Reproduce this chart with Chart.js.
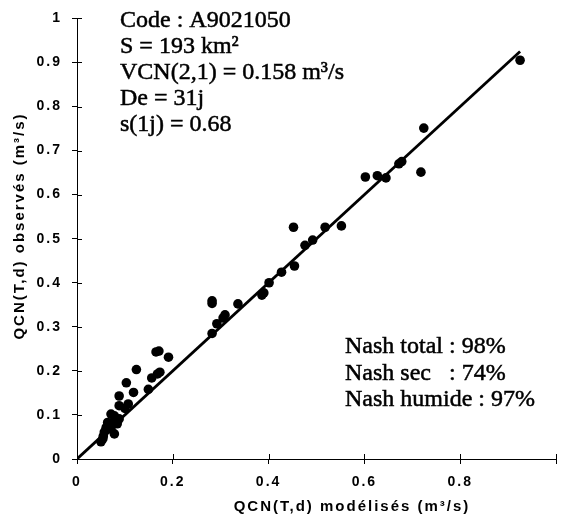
<!DOCTYPE html>
<html>
<head>
<meta charset="utf-8">
<script src="https://cdn.jsdelivr.net/npm/chart.js@4"></script>
<style>
  html, body { margin: 0; padding: 0; background: #fff; }
  #wrap { width: 566px; height: 522px; }
</style>
</head>
<body>
<div id="wrap"><canvas id="chart"></canvas></div>
<script>
const modelled = [
    0.925, 0.724, 0.718, 0.678, 0.672, 0.645, 0.627, 0.602,
    0.552, 0.518, 0.452, 0.492, 0.476, 0.454, 0.427, 0.401, 0.390, 0.386,
    0.336, 0.282, 0.282, 0.309, 0.305, 0.292, 0.282,
    0.171, 0.165, 0.191, 0.124, 0.173, 0.168, 0.156, 0.103, 0.149, 0.118,
    0.088, 0.107, 0.088, 0.100, 0.071, 0.078, 0.088, 0.078, 0.064, 0.084,
    0.061, 0.071, 0.067, 0.057, 0.078, 0.054, 0.050, 0.055, 0.060
];
const observed = [
    0.905, 0.751, 0.651, 0.675, 0.670, 0.638, 0.643, 0.640,
    0.529, 0.526, 0.526, 0.497, 0.485, 0.438, 0.424, 0.400, 0.377, 0.372,
    0.352, 0.359, 0.353, 0.327, 0.320, 0.307, 0.285,
    0.245, 0.243, 0.231, 0.203, 0.197, 0.193, 0.184, 0.173, 0.158, 0.151,
    0.143, 0.125, 0.121, 0.115, 0.102, 0.098, 0.091, 0.087, 0.083, 0.080,
    0.072, 0.068, 0.077, 0.061, 0.057, 0.046, 0.039, 0.052, 0.065
];
// 1:1 line
const lineX = [0, 0.925];
const lineY = [0, 0.925];

const xTicks = [0, 0.2, 0.4, 0.6, 0.8, 1];
const xTickLabels = ["0", "0.2", "0.4", "0.6", "0.8", ""];
const yTicks = [0, 0.1, 0.2, 0.3, 0.4, 0.5, 0.6, 0.7, 0.8, 0.9, 1];
const yTickLabels = ["0", "0.1", "0.2", "0.3", "0.4", "0.5", "0.6", "0.7", "0.8", "0.9", "1"];

const xTitle = "QCN(T,d) modélisés (m³/s)";
const yTitle = "QCN(T,d) observés (m³/s)";
const infoLines = ["Code : A9021050", "S = 193 km²", "VCN(2,1) = 0.158 m³/s", "De = 31j", "s(1j) = 0.68"];
const nashLines = ["Nash total : 98%", "Nash sec   : 74%", "Nash humide : 97%"];

const points = modelled.map((x, i) => ({ x: x, y: observed[i] }));
const line = lineX.map((x, i) => ({ x: x, y: lineY[i] }));

const axisFont = "bold 15px 'Liberation Sans', Arial, sans-serif";

// spaced-out letters like the scanned figure
const spacing = {
    id: "spacing",
    beforeDraw(chart) {
        chart.ctx.letterSpacing = "2px";
    }
};

// tick marks cross the axis: draw the inner half
const innerTicks = {
    id: "innerTicks",
    afterDraw(chart) {
        const ctx = chart.ctx;
        const x = chart.scales.x, y = chart.scales.y;
        ctx.save();
        ctx.strokeStyle = "#000";
        ctx.lineWidth = 1;
        ctx.beginPath();
        xTicks.forEach(v => {
            const px = Math.round(x.getPixelForValue(v)) + 0.5;
            ctx.moveTo(px, y.bottom);
            ctx.lineTo(px, y.bottom - 5);
        });
        yTicks.forEach(v => {
            const py = Math.round(y.getPixelForValue(v)) + 0.5;
            ctx.moveTo(x.left, py);
            ctx.lineTo(x.left + 5, py);
        });
        ctx.stroke();
        ctx.restore();
    }
};

// axis titles sit off-centre in the original, so place them by hand
const titles = {
    id: "titles",
    afterDraw(chart) {
        const ctx = chart.ctx;
        ctx.save();
        ctx.letterSpacing = "2px";
        ctx.fillStyle = "#000";
        ctx.font = axisFont;
        ctx.textAlign = "center";
        ctx.textBaseline = "middle";
        ctx.fillText(xTitle, 352, 507);
        ctx.translate(20, 226);
        ctx.rotate(-Math.PI / 2);
        ctx.fillText(yTitle, 0, 0);
        ctx.restore();
    }
};

const notes = {
    id: "notes",
    afterDraw(chart) {
        const ctx = chart.ctx;
        ctx.save();
        ctx.letterSpacing = "0px";
        ctx.fillStyle = "#000";
        ctx.strokeStyle = "#000";
        ctx.lineWidth = 0.5;
        ctx.font = "24px 'Liberation Serif', 'Times New Roman', serif";
        ctx.textBaseline = "alphabetic";
        infoLines.forEach((t, i) => {
            ctx.fillText(t, 120, 27 + i * 26);
            ctx.strokeText(t, 120, 27 + i * 26);
        });
        nashLines.forEach((t, i) => {
            ctx.fillText(t, 345, 353 + i * 26.5);
            ctx.strokeText(t, 345, 353 + i * 26.5);
        });
        ctx.restore();
    }
};

new Chart(document.getElementById("chart"), {
    type: "scatter",
    data: {
        datasets: [
            {
                data: line,
                showLine: true,
                borderColor: "#000",
                borderWidth: 2.8,
                pointRadius: 0
            },
            {
                data: points,
                backgroundColor: "#000",
                borderColor: "#000",
                pointRadius: 4.8,
                borderWidth: 0
            }
        ]
    },
    options: {
        responsive: true,
        maintainAspectRatio: false,
        animation: false,
        layout: { padding: { top: 12, right: 0, left: 0, bottom: 0 } },
        plugins: { legend: { display: false }, tooltip: { enabled: false } },
        scales: {
            x: {
                type: "linear",
                min: 0,
                max: 1,
                afterBuildTicks: s => { s.ticks = xTicks.map(v => ({ value: v })); },
                afterFit: s => { s.height = 63; },
                grid: { drawOnChartArea: false, drawTicks: true, tickLength: 5, color: "#000" },
                border: { color: "#000", width: 1 },
                ticks: {
                    callback: (v, i) => xTickLabels[i],
                    color: "#000",
                    maxRotation: 0,
                    padding: 10,
                    font: { family: "'Liberation Sans', Arial, sans-serif", size: 14, weight: "bold" }
                },
                title: { display: false }
            },
            y: {
                type: "linear",
                min: 0,
                max: 1,
                afterBuildTicks: s => { s.ticks = yTicks.map(v => ({ value: v })); },
                afterFit: s => { s.width = 77; },
                grid: { drawOnChartArea: false, drawTicks: true, tickLength: 5, color: "#000" },
                border: { color: "#000", width: 1 },
                ticks: {
                    callback: (v, i) => yTickLabels[i],
                    color: "#000",
                    padding: 10,
                    font: { family: "'Liberation Sans', Arial, sans-serif", size: 14, weight: "bold" }
                },
                title: { display: false }
            }
        }
    },
    plugins: [spacing, innerTicks, titles, notes]
});
</script>
</body>
</html>
